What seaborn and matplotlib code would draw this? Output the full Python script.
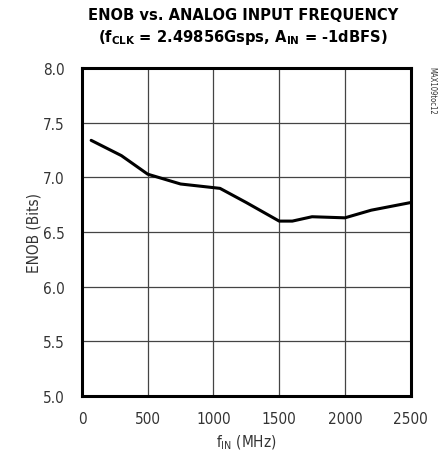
import seaborn as sns
import numpy as np
import pandas as pd
import matplotlib.pyplot as plt

# ENOB vs analog input frequency
freq_mhz = [70, 300, 500, 750, 1050, 1250, 1500, 1600, 1750, 2000, 2200, 2500]
enob_bits = [7.34, 7.20, 7.03, 6.94, 6.90, 6.77, 6.60, 6.60, 6.64, 6.63, 6.70, 6.77]
x_ticks = [0, 500, 1000, 1500, 2000, 2500]
y_ticks = [5.0, 5.5, 6.0, 6.5, 7.0, 7.5, 8.0]

df = pd.DataFrame({'freq': freq_mhz, 'enob': enob_bits})

sns.set_style('white')
plt.rcParams['font.family'] = ['DejaVu Sans']
plt.rcParams['font.stretch'] = 'condensed'

fig = plt.figure(figsize=(4.43, 4.56), dpi=100)
ax = fig.add_axes([0.185, 0.130, 0.742, 0.718])

sns.lineplot(data=df, x='freq', y='enob', color='black', lw=2.2, ax=ax)

ax.set_xlim(0, 2500)
ax.set_ylim(5.0, 8.0)
ax.set_xticks(x_ticks)
ax.set_xticklabels([str(t) for t in x_ticks])
ax.set_yticks(y_ticks)
ax.set_yticklabels(['%.1f' % t for t in y_ticks])
ax.tick_params(length=0, labelsize=11, colors='#333333')
ax.tick_params(axis='y', pad=12.5)
ax.tick_params(axis='x', pad=11)
ax.grid(True, color='#444444', lw=0.9)
for s in ax.spines.values():
    s.set_visible(True)
    s.set_linewidth(2.2)
    s.set_color('black')

ax.set_xlabel(r'f$_{\mathregular{IN}}$ (MHz)', fontsize=11, color='#333333', labelpad=5)
ax.set_ylabel('ENOB (Bits)', fontsize=11, color='#333333', labelpad=1)

fig.text(0.549, 0.966, 'ENOB vs. ANALOG INPUT FREQUENCY', ha='center', va='center',
         fontsize=11.8, fontweight='bold', color='black')
fig.text(0.549, 0.918, r'(f$_{\mathregular{CLK}}$ = 2.49856Gsps, A$_{\mathregular{IN}}$ = -1dBFS)',
         ha='center', va='center', fontsize=11.8, fontweight='bold', color='black')
fig.text(0.975, 0.80, 'MAX109toc12', rotation=270, ha='center', va='center',
         fontsize=5.5, color='#333333')

fig.savefig('out.png', dpi=100)
